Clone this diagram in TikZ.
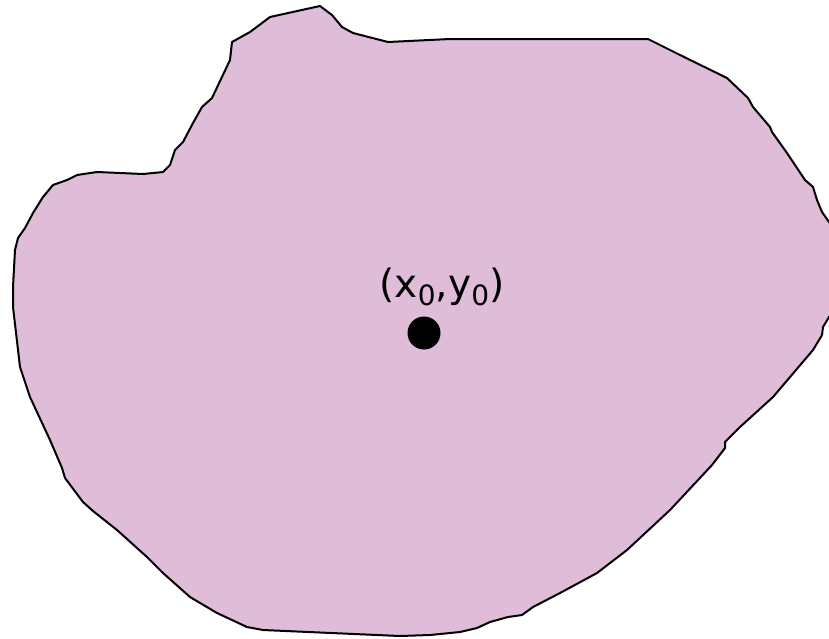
\documentclass[tikz,border=0pt]{standalone}
\usepackage{fontspec}
\setmainfont{DejaVu Sans}
\definecolor{blobfill}{RGB}{223,188,215}
\newcommand{\lowsub}[1]{\raisebox{-8pt}{\fontsize{28}{32}\selectfont #1}}
\tikzset{
  blob/.style={draw=black, fill=blobfill, line width=2pt, line join=round},
  pointdot/.style={circle, fill=black, inner sep=0pt, minimum size=33pt},
  label/.style={font=\fontsize{39}{44}\selectfont, inner sep=0pt}
}
\begin{document}
\begin{tikzpicture}[x=1pt,y=-1pt]
\useasboundingbox (0,0) rectangle (829,638);
\clip (0,0) rectangle (829,638);
\draw[blob] (320,6) -- (332,15) -- (342,27) -- (353,33) -- (388,42) -- (450,39) -- (648,39)
 -- (680,55) -- (727,78) -- (748,98) -- (753,107) -- (770,127) -- (772,132) -- (787,153)
 -- (805,180) -- (813,187) -- (817,200) -- (822,212) -- (829,222) -- (840,235) -- (840,305)
 -- (829,317) -- (823,327) -- (822,335) -- (813,350) -- (773,397) -- (740,427) -- (725,442)
 -- (725,448) -- (712,465) -- (670,510) -- (627,550) -- (597,573) -- (560,593) -- (533,607)
 -- (522,615) -- (508,617) -- (490,622) -- (477,628) -- (460,632) -- (430,635) -- (400,636)
 -- (263,630) -- (247,627) -- (217,613) -- (190,597) -- (163,573) -- (147,557) -- (117,530)
 -- (93,511) -- (83,502) -- (65,478) -- (62,468) -- (50,440) -- (30,397) -- (20,367)
 -- (13,307) -- (13,287) -- (15,250) -- (18,238) -- (25,228) -- (33,213) -- (43,197)
 -- (53,185) -- (67,180) -- (77,175) -- (97,172) -- (120,173) -- (143,174) -- (163,172)
 -- (170,165) -- (175,150) -- (183,142) -- (193,123) -- (202,107) -- (212,98) -- (230,60)
 -- (232,42) -- (250,32) -- (270,17) -- cycle;
\node[pointdot] (p) at (424,333) {};
\node[label] (lbl) at (442,287) {(x\lowsub{0},y\lowsub{0})};
\end{tikzpicture}
\end{document}
